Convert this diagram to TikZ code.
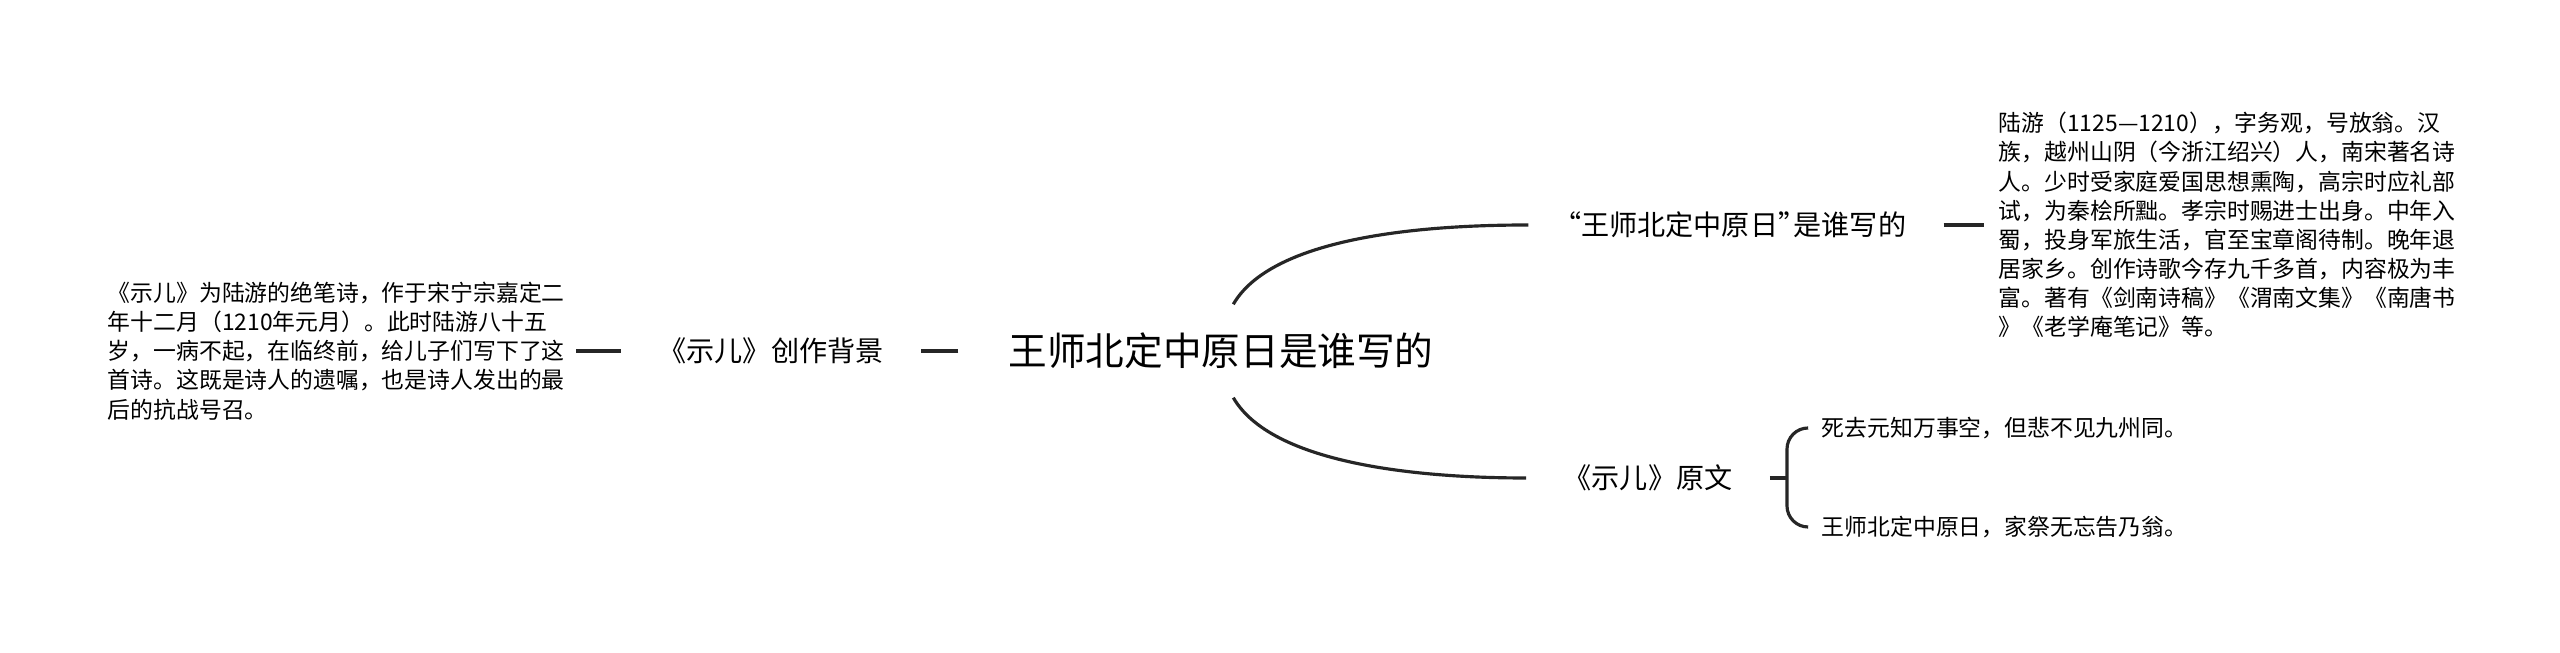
\documentclass[tikz,border=0pt]{standalone}
\usepackage{fontspec}
\newfontfamily\cjk{Noto Sans CJK SC}
\usepackage{tikz}

\begin{document}
\begin{tikzpicture}[
  rootbox/.style={font=\cjk\fontsize{11}{13}\selectfont, inner xsep=14pt, minimum height=0.92cm},
  topicbox/.style={font=\cjk\fontsize{8}{10}\selectfont, inner xsep=10.5pt},
  notebox/.style={font=\cjk\fontsize{6.5}{8.3}\selectfont, align=left, inner sep=4pt},
  link/.style={line width=0.9pt, black!85}
]
\fill[white] (0,0) rectangle (25.6,6.53);
\useasboundingbox (0,0) rectangle (25.6,6.53);

\node[rootbox] (root) at (12.21,3.02) {王师北定中原日是谁写的};
\node[topicbox] (bg) at (7.71,3.02) {《示儿》创作背景};
\node[notebox, anchor=east, inner sep=3pt] (bgtext) at (5.76,3.02) {
《示儿》为陆游的绝笔诗，作于宋宁宗嘉定二\\
年十二月（1210年元月）。此时陆游八十五\\
岁，一病不起，在临终前，给儿子们写下了这\\
首诗。这既是诗人的遗嘱，也是诗人发出的最\\
后的抗战号召。};
\node[topicbox] (who) at (17.36,4.28) {\makebox[0.55em][r]{“}王师北定中原日\makebox[0.55em][l]{”}是谁写的};
\node[notebox, anchor=west] (whotext) at (19.84,4.28) {
陆游（1125—1210），字务观，号放翁。汉\\
族，越州山阴（今浙江绍兴）人，南宋著名诗\\
人。少时受家庭爱国思想熏陶，高宗时应礼部\\
试，为秦桧所黜。孝宗时赐进士出身。中年入\\
蜀，投身军旅生活，官至宝章阁待制。晚年退\\
居家乡。创作诗歌今存九千多首，内容极为丰\\
富。著有《剑南诗稿》《渭南文集》《南唐书\\
》《老学庵笔记》等。};
\node[topicbox] (poem) at (16.48,1.75) {《示儿》原文};
\coordinate (fork) at (17.87,1.75);
\node[notebox, anchor=west] (line1) at (18.07,2.25) {死去元知万事空，但悲不见九州同。};
\node[notebox, anchor=west] (line2) at (18.07,1.26) {王师北定中原日，家祭无忘告乃翁。};

% branches
\draw[link] (root.west) -- (bg.east);
\draw[link] (bg.west) -- (bgtext.east);
\draw[link] ([xshift=3.5pt]root.north) to[out=60,in=180,looseness=0.7] (who.west);
\draw[link] ([xshift=3.5pt]root.south) to[out=-60,in=180,looseness=0.7] (poem.west);
\draw[link] (who.east) -- (whotext.west);
\draw[link] (poem.east) -- (fork);
\draw[link, rounded corners=6pt] (line1.west) -| (fork) |- (line2.west);
\end{tikzpicture}
\end{document}
